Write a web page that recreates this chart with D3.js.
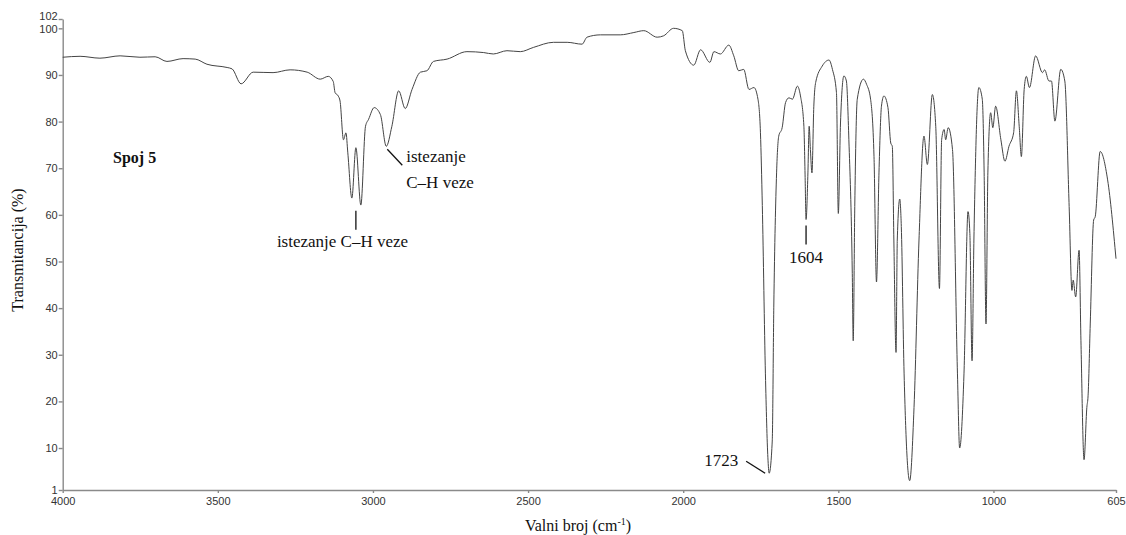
<!DOCTYPE html>
<html>
<head>
<meta charset="utf-8">
<script src="https://cdn.jsdelivr.net/npm/d3@7"></script>
<style>
  body { margin: 0; background: #fff; }
  .axis path, .axis line { stroke: #8a8a8a; stroke-width: 1.4; }
  .axis text { fill: #333; font-family: "Liberation Sans", Arial, sans-serif; font-size: 11px; }
  .lbl { font-family: "Liberation Serif", "Times New Roman", serif; fill: #111; }
</style>
</head>
<body>
<div id="chart"></div>
<script>
var w = 1126;
var h = 535;

// spectrum (wavenumber, cm-1 / transmittance, %)
var wavenumbers = [4000, 3944, 3880, 3815, 3751, 3702, 3664, 3612, 3573, 3535, 3470, 3454, 3425, 3386, 3322, 3267, 3212, 3170, 3144, 3128,
  3122, 3112, 3106, 3095, 3087, 3081, 3068, 3055, 3039, 3024, 3014, 2996, 2976, 2957, 2939, 2917, 2896, 2874, 2847, 2826,
  2805, 2761, 2697, 2643, 2612, 2568, 2525, 2483, 2418, 2374, 2326, 2310, 2267, 2203, 2159, 2127, 2084, 2063, 2031, 2003,
  1993, 1966, 1944, 1914, 1901, 1880, 1853, 1837, 1821, 1805, 1788, 1772, 1759, 1751, 1745, 1735, 1727, 1723, 1713, 1708,
  1699, 1692, 1681, 1670, 1659, 1648, 1632, 1622, 1611, 1607, 1604, 1598, 1594, 1590, 1585, 1579, 1573, 1552, 1530, 1519,
  1506, 1500, 1493, 1482, 1474, 1466, 1455, 1452, 1447, 1439, 1419, 1409, 1396, 1385, 1377, 1369, 1361, 1353, 1340, 1331,
  1326, 1321, 1314, 1310, 1302, 1297, 1288, 1270, 1256, 1240, 1224, 1213, 1197, 1186, 1174, 1167, 1159, 1154, 1146, 1132,
  1116, 1109, 1095, 1082, 1076, 1069, 1063, 1047, 1036, 1030, 1024, 1018, 1009, 1002, 993, 976, 963, 950, 935, 926,
  917, 910, 901, 894, 884, 864, 842, 835, 821, 813, 802, 783, 770, 756, 747, 743, 735, 724, 718, 708,
  699, 695, 688, 677, 672, 656, 632, 605];
var transmittance = [93.8, 94.0, 93.6, 94.1, 93.8, 93.9, 92.9, 93.5, 93.4, 92.3, 91.6, 91.3, 88.1, 90.6, 90.5, 91.1, 90.6, 89.1, 89.7, 88.6,
  86.2, 85.5, 84.4, 76.1, 77.6, 73.3, 63.6, 74.4, 62.1, 79.0, 80.5, 83.0, 81.5, 74.7, 79.0, 86.6, 82.8, 86.9, 90.6, 90.9,
  92.9, 93.4, 95.0, 94.8, 94.5, 95.2, 95.0, 95.9, 97.0, 97.0, 96.6, 98.1, 98.6, 98.6, 99.1, 99.5, 98.1, 98.4, 100.0, 99.5,
  95.2, 92.1, 95.4, 92.7, 95.0, 94.5, 96.4, 94.1, 90.9, 91.2, 86.9, 87.3, 84.8, 77.6, 62.0, 25.9, 7.9, 4.6, 11.5, 40.2,
  69.0, 76.9, 78.7, 84.1, 85.1, 84.8, 87.6, 85.5, 79.0, 68.0, 59.0, 69.0, 79.0, 74.0, 69.0, 83.3, 88.4, 91.9, 93.2, 91.2,
  86.2, 60.3, 79.7, 89.8, 88.7, 76.1, 47.4, 33.0, 61.8, 84.8, 89.1, 88.0, 84.8, 72.5, 45.6, 69.0, 83.3, 85.5, 83.0, 75.4,
  74.7, 54.6, 30.5, 54.6, 63.4, 57.5, 25.9, 3.0, 18.7, 54.6, 76.9, 70.8, 85.8, 79.0, 44.2, 76.1, 78.3, 76.1, 78.7, 74.0,
  25.9, 10.0, 25.9, 60.7, 56.0, 28.7, 54.6, 87.3, 84.8, 69.0, 36.6, 69.0, 81.9, 78.7, 83.3, 76.1, 71.5, 74.7, 77.6, 86.6,
  79.0, 72.5, 86.9, 89.7, 87.3, 94.1, 90.5, 91.1, 88.7, 88.7, 80.1, 91.2, 88.7, 61.8, 43.8, 46.0, 42.4, 52.4, 33.0, 7.5,
  18.7, 21.2, 36.6, 58.9, 59.6, 73.6, 67.5, 50.6];

var xTicks = [4000, 3500, 3000, 2500, 2000, 1500, 1000, 605];
var yTicks = [1, 10, 20, 30, 40, 50, 60, 70, 80, 90, 100, 102];

// annotations: wavenumber/transmittance of the band they point at
var annWn = [3055, 2957, 1604, 1723];
var annT = [63, 74.7, 59, 4.6];

var x = d3.scaleLinear().domain([4000, 605]).range([62.7, 1116]);
var y = d3.scaleLinear().domain([1, 102]).range([490, 19]);

var svg = d3.select("#chart").append("svg")
  .attr("width", w)
  .attr("height", h);

var pts = wavenumbers.map(function(d, i) { return [d, transmittance[i]]; });

var line = d3.line()
  .x(function(d) { return x(d[0]); })
  .y(function(d) { return y(d[1]); })
  .curve(d3.curveMonotoneX);

svg.append("g")
  .attr("class", "axis")
  .attr("transform", "translate(0," + y(1) + ")")
  .call(d3.axisBottom(x).tickValues(xTicks).tickSize(3).tickSizeOuter(0).tickPadding(4).tickFormat(d3.format("d")));

var yAxis = svg.append("g")
  .attr("class", "axis")
  .attr("transform", "translate(" + x(4000) + ",0)")
  .call(d3.axisLeft(y).tickValues(yTicks).tickSize(4).tickSizeOuter(0).tickPadding(1).tickFormat(d3.format("d")));

// the top two labels sit close together, lift 102 a little
yAxis.selectAll(".tick text").filter(function(d) { return d === 102; }).attr("dy", "0.05em");
yAxis.selectAll(".tick text").filter(function(d) { return d === 100; }).attr("dy", "0.42em");

svg.append("path")
  .datum(pts)
  .attr("fill", "none")
  .attr("stroke", "#444")
  .attr("stroke-width", 1)
  .attr("stroke-linejoin", "round")
  .attr("d", line);

// axis titles
svg.append("text")
  .attr("class", "lbl")
  .attr("transform", "translate(23," + 250 + ") rotate(-90)")
  .attr("text-anchor", "middle")
  .style("font-size", "16px")
  .text("Transmitancija (%)");

var xt = svg.append("text")
  .attr("class", "lbl")
  .attr("x", 578)
  .attr("y", 531)
  .attr("text-anchor", "middle")
  .style("font-size", "16px");
xt.append("tspan").text("Valni broj (cm");
xt.append("tspan").attr("dy", -6).style("font-size", "10px").text("-1");
xt.append("tspan").attr("dy", 6).text(")");

svg.append("text")
  .attr("class", "lbl")
  .attr("x", 113)
  .attr("y", 163)
  .style("font-size", "16px")
  .style("font-weight", "bold")
  .text("Spoj 5");

// annotations
var a0x = x(annWn[0]), a0y = y(annT[0]);
svg.append("line").attr("x1", a0x).attr("x2", a0x).attr("y1", a0y + 10).attr("y2", a0y + 29)
  .attr("stroke", "#111").attr("stroke-width", 1.3);
svg.append("text").attr("class", "lbl").attr("x", a0x - 79).attr("y", a0y + 46)
  .style("font-size", "17px").text("istezanje C\u2013H veze");

var a1x = x(annWn[1]), a1y = y(annT[1]);
svg.append("line").attr("x1", a1x + 1).attr("y1", a1y + 3).attr("x2", a1x + 16).attr("y2", a1y + 19)
  .attr("stroke", "#111").attr("stroke-width", 1.3);
svg.append("text").attr("class", "lbl").attr("x", a1x + 20).attr("y", a1y + 16)
  .style("font-size", "17px").text("istezanje");
svg.append("text").attr("class", "lbl").attr("x", a1x + 20).attr("y", a1y + 42)
  .style("font-size", "17px").text("C\u2013H veze");

var a2x = x(annWn[2]), a2y = y(annT[2]);
svg.append("line").attr("x1", a2x).attr("x2", a2x).attr("y1", a2y + 6).attr("y2", a2y + 25)
  .attr("stroke", "#111").attr("stroke-width", 1.3);
svg.append("text").attr("class", "lbl").attr("x", a2x).attr("y", a2y + 43)
  .attr("text-anchor", "middle").style("font-size", "17px").text(annWn[2]);

var a3x = x(annWn[3]), a3y = y(annT[3]);
svg.append("line").attr("x1", a3x - 23).attr("y1", a3y - 12).attr("x2", a3x - 4).attr("y2", a3y)
  .attr("stroke", "#111").attr("stroke-width", 1.3);
svg.append("text").attr("class", "lbl").attr("x", a3x - 31).attr("y", a3y - 7)
  .attr("text-anchor", "end").style("font-size", "17px").text(annWn[3]);
</script>
</body>
</html>
